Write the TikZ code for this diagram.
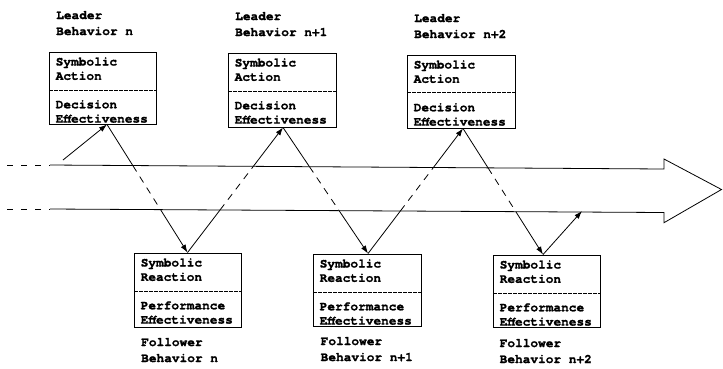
\documentclass[tikz,border=0pt]{standalone}
\usepackage{fontspec}
\setmonofont{TeX Gyre Cursor}[BoldFeatures={FakeBold=1.2}]
\usetikzlibrary{arrows.meta,calc}
\begin{document}
\begin{tikzpicture}[x=1pt,y=-1pt,
  box/.style={draw,line width=0.9pt,inner sep=0pt},
  div/.style={line width=0.8pt,dash pattern=on 3.5pt off 1.5pt},
  txt/.style={font=\ttfamily\bfseries\fontsize{12.8}{14}\selectfont,anchor=base west,inner sep=0pt},
  conn/.style={line width=0.8pt},
  hid/.style={line width=0.8pt,dash pattern=on 7pt off 6pt},
  arr/.style={conn,-{Latex[length=8pt,width=5.5pt]}}]
\useasboundingbox (0,0) rectangle (723,368);

% ---- leader boxes
\node[box,minimum width=107pt,minimum height=72pt] (L1) at (102.5,88) {};
\node[box,minimum width=108pt,minimum height=74pt] (L2) at (282,90) {};
\node[box,minimum width=108pt,minimum height=73pt] (L3) at (461,91.5) {};
\draw[div] (49,90) -- (156,90);
\draw[div] (228,91) -- (336,91);
\draw[div] (407,92) -- (515,92);

% ---- follower boxes
\node[box,minimum width=107pt,minimum height=74pt] (F1) at (187.5,290) {};
\node[box,minimum width=108pt,minimum height=72pt] (F2) at (367,290) {};
\node[box,minimum width=107pt,minimum height=72pt] (F3) at (546.5,291) {};
\draw[div] (134,291) -- (241,291);
\draw[div] (313,292) -- (421,292);
\draw[div] (493,293) -- (600,293);

% ---- leader texts
\node[txt] (l1a) at (56,19) {Leader};
\node[txt] (l1b) at (56,35) {Behavior n};
\node[txt] (l2a) at (235,20) {Leader};
\node[txt] (l2b) at (235,36) {Behavior n+1};
\node[txt] (l3a) at (414,22) {Leader};
\node[txt] (l3b) at (414,38) {Behavior n+2};

\node[txt] (t1a) at (55.5,65.5) {Symbolic};
\node[txt] (t1b) at (55.5,79.8) {Action};
\node[txt] (t1c) at (55.5,108.3) {Decision};
\node[txt] (t1d) at (55.5,122.6) {Effectiveness};
\node[txt] (t2a) at (234.5,66.5) {Symbolic};
\node[txt] (t2b) at (234.5,80.8) {Action};
\node[txt] (t2c) at (234.5,109.3) {Decision};
\node[txt] (t2d) at (234.5,123.6) {Effectiveness};
\node[txt] (t3a) at (413.5,68.5) {Symbolic};
\node[txt] (t3b) at (413.5,82.8) {Action};
\node[txt] (t3c) at (413.5,111.3) {Decision};
\node[txt] (t3d) at (413.5,125.6) {Effectiveness};

% ---- follower texts
\node[txt] (u1a) at (140.5,266.5) {Symbolic};
\node[txt] (u1b) at (140.5,280.8) {Reaction};
\node[txt] (u1c) at (140.5,309.3) {Performance};
\node[txt] (u1d) at (140.5,323.6) {Effectiveness};
\node[txt] (u2a) at (319.5,267.5) {Symbolic};
\node[txt] (u2b) at (319.5,281.8) {Reaction};
\node[txt] (u2c) at (319.5,310.3) {Performance};
\node[txt] (u2d) at (319.5,324.6) {Effectiveness};
\node[txt] (u3a) at (499.5,268.5) {Symbolic};
\node[txt] (u3b) at (499.5,282.8) {Reaction};
\node[txt] (u3c) at (499.5,311.3) {Performance};
\node[txt] (u3d) at (499.5,325.6) {Effectiveness};

\node[txt] (f1a) at (141,346) {Follower};
\node[txt] (f1b) at (141,362) {Behavior n};
\node[txt] (f2a) at (320.5,345) {Follower};
\node[txt] (f2b) at (320.5,361) {Behavior n+1};
\node[txt] (f3a) at (499.5,347) {Follower};
\node[txt] (f3b) at (499.5,363) {Behavior n+2};

% ---- big arrow (time band)
\coordinate (tl) at (50,165);
\coordinate (tr) at (664,169);
\coordinate (bl) at (50,209);
\coordinate (br) at (664,212.5);
\coordinate (ht) at (664,159);
\coordinate (tip) at (721.5,189.5);
\coordinate (hb) at (664,222.7);
\coordinate (dt) at (7,165);
\coordinate (db) at (7,209);
\draw[conn,line join=miter] (tl) -- (tr) -- (ht) -- (tip) -- (hb) -- (br) -- (bl);
\draw[conn,dash pattern=on 6pt off 8pt] (dt) -- (tl);
\draw[conn,dash pattern=on 6pt off 8pt] (db) -- (bl);

% ---- connection points on boxes
\coordinate (L1b) at ([xshift=4.5pt]L1.south);
\coordinate (L2b) at ([xshift=1pt]L2.south);
\coordinate (L3b) at ([xshift=2pt]L3.south);
\coordinate (F1t) at (F1.north);
\coordinate (F2t) at ([xshift=1pt]F2.north);
\coordinate (F3t) at ([xshift=-3.5pt]F3.north);
\coordinate (s0) at (63,160);
\coordinate (g0) at (582,211);

% ---- crossings with the band
\coordinate (b1) at (intersection of L1b--F1t and tl--tr);
\coordinate (b2) at (intersection of L1b--F1t and bl--br);
\coordinate (c1) at (intersection of F1t--L2b and bl--br);
\coordinate (c2) at (intersection of F1t--L2b and tl--tr);
\coordinate (d1) at (intersection of L2b--F2t and tl--tr);
\coordinate (d2) at (intersection of L2b--F2t and bl--br);
\coordinate (e1) at (intersection of F2t--L3b and bl--br);
\coordinate (e2) at (intersection of F2t--L3b and tl--tr);
\coordinate (h1) at (intersection of L3b--F3t and tl--tr);
\coordinate (h2) at (intersection of L3b--F3t and bl--br);

% ---- zigzag connectors
\draw[arr] (s0) -- (L1b);
\draw[conn] (L1b) -- (b1); \draw[hid] (b1) -- (b2); \draw[arr] (b2) -- (F1t);
\draw[conn] (F1t) -- (c1); \draw[hid] (c1) -- (c2); \draw[arr] (c2) -- (L2b);
\draw[conn] (L2b) -- (d1); \draw[hid] (d1) -- (d2); \draw[arr] (d2) -- (F2t);
\draw[conn] (F2t) -- (e1); \draw[hid] (e1) -- (e2); \draw[arr] (e2) -- (L3b);
\draw[conn] (L3b) -- (h1); \draw[hid] (h1) -- (h2); \draw[arr] (h2) -- (F3t);
\draw[arr] (F3t) -- (g0);
\end{tikzpicture}
\end{document}
